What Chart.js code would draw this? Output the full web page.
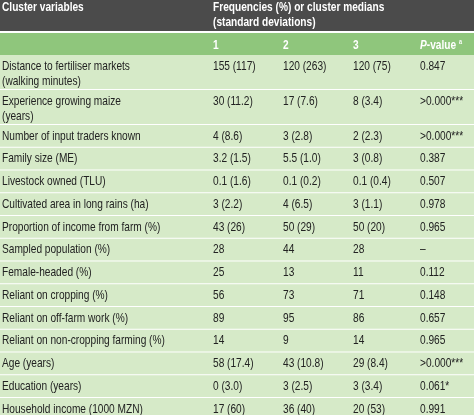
<!DOCTYPE html>
<html><head><meta charset="utf-8">
<script src="https://cdn.jsdelivr.net/npm/chart.js@4"></script>
<style>html,body{margin:0;padding:0;background:#fff}#wrap{width:474px;height:415px}</style>
</head><body><div id="wrap"><canvas id="tbl"></canvas></div>
<script>
var variables = [
  ['Distance to fertiliser markets', '(walking minutes)'],
  ['Experience growing maize', '(years)'],
  ['Number of input traders known'],
  ['Family size (ME)'],
  ['Livestock owned (TLU)'],
  ['Cultivated area in long rains (ha)'],
  ['Proportion of income from farm (%)'],
  ['Sampled population (%)'],
  ['Female-headed (%)'],
  ['Reliant on cropping (%)'],
  ['Reliant on off-farm work (%)'],
  ['Reliant on non-cropping farming (%)'],
  ['Age (years)'],
  ['Education (years)'],
  ['Household income (1000 MZN)']
];
var cluster1 = ['155 (117)', '30 (11.2)', '4 (8.6)', '3.2 (1.5)', '0.1 (1.6)', '3 (2.2)', '43 (26)', '28', '25', '56', '89', '14', '58 (17.4)', '0 (3.0)', '17 (60)'];
var cluster2 = ['120 (263)', '17 (7.6)', '3 (2.8)', '5.5 (1.0)', '0.1 (0.2)', '4 (6.5)', '50 (29)', '44', '13', '73', '95', '9', '43 (10.8)', '3 (2.5)', '36 (40)'];
var cluster3 = ['120 (75)', '8 (3.4)', '2 (2.3)', '3 (0.8)', '0.1 (0.4)', '3 (1.1)', '50 (20)', '28', '11', '71', '86', '14', '29 (8.4)', '3 (3.4)', '20 (53)'];
var pValues = ['0.847', '>0.000***', '>0.000***', '0.387', '0.507', '0.978', '0.965', '\u2013', '0.112', '0.148', '0.657', '0.965', '>0.000***', '0.061*', '0.991'];
var columnHeads = ['1', '2', '3', 'P-value'];

var FONT = '"Liberation Sans", Arial, sans-serif';
var SQ = 0.78; // horizontal squeeze to imitate a condensed face
var colX = [2, 213, 283, 353, 420];

// draw text squeezed horizontally
function txt(ctx, s, x, y) {
  ctx.save();
  ctx.translate(x, y);
  ctx.scale(SQ, 1);
  ctx.fillText(s, 0, 0);
  var wd = ctx.measureText(s).width * SQ;
  ctx.restore();
  return wd;
}

var tablePlugin = {
  id: 'table',
  afterDraw: function(chart) {
    var ctx = chart.ctx, y = chart.scales.y, w = chart.width;
    var py = function(v) { return y.getPixelForValue(v); };
    ctx.save();
    ctx.fillStyle = '#4b4b4b';
    ctx.fillRect(0, py(0), w, py(31) - py(0));
    ctx.fillStyle = '#8fc67c';
    ctx.fillRect(0, py(33), w, py(55) - py(33));
    ctx.fillStyle = '#fff';
    ctx.font = 'bold 13px ' + FONT;
    ctx.textBaseline = 'middle';
    txt(ctx, 'Cluster variables', colX[0], py(7));
    txt(ctx, 'Frequencies (%) or cluster medians', colX[1], py(7));
    txt(ctx, '(standard deviations)', colX[1], py(22));
    for (var c = 0; c < 3; c++) txt(ctx, columnHeads[c], colX[c + 1], py(45));
    ctx.font = 'bold italic 13px ' + FONT;
    var pw = txt(ctx, 'P', colX[4], py(45));
    ctx.font = 'bold 13px ' + FONT;
    var vw = txt(ctx, '-value', colX[4] + pw, py(45));
    ctx.font = 'bold 7px ' + FONT;
    txt(ctx, 'a', colX[4] + pw + vw + 3, py(42));

    var top = 55;
    ctx.font = '13px ' + FONT;
    for (var i = 0; i < variables.length; i++) {
      var h = variables[i].length > 1 ? 35 : 22.75;
      ctx.fillStyle = '#d6eac8';
      ctx.fillRect(0, py(top), w, py(top + h) - py(top));
      ctx.fillStyle = '#fff';
      ctx.fillRect(0, py(top + h) - 1, w, 2);
      ctx.fillStyle = '#222';
      var ty = top + 11;
      variables[i].forEach(function(t, k) { txt(ctx, t, colX[0], py(ty + k * 15)); });
      txt(ctx, cluster1[i], colX[1], py(ty));
      txt(ctx, cluster2[i], colX[2], py(ty));
      txt(ctx, cluster3[i], colX[3], py(ty));
      txt(ctx, pValues[i], colX[4], py(ty));
      top += h;
    }
    ctx.restore();
  }
};

new Chart(document.getElementById('tbl'), {
  type: 'bar',
  data: { labels: variables.map(function(v) { return v.join(' '); }), datasets: [{ data: [] }] },
  options: {
    responsive: true, maintainAspectRatio: false, animation: false,
    layout: { padding: 0 },
    plugins: { legend: { display: false }, tooltip: { enabled: false } },
    scales: {
      x: { display: false },
      y: { type: 'linear', display: false, min: 0, max: 415, reverse: true }
    }
  },
  plugins: [tablePlugin]
});
</script>
</body></html>
